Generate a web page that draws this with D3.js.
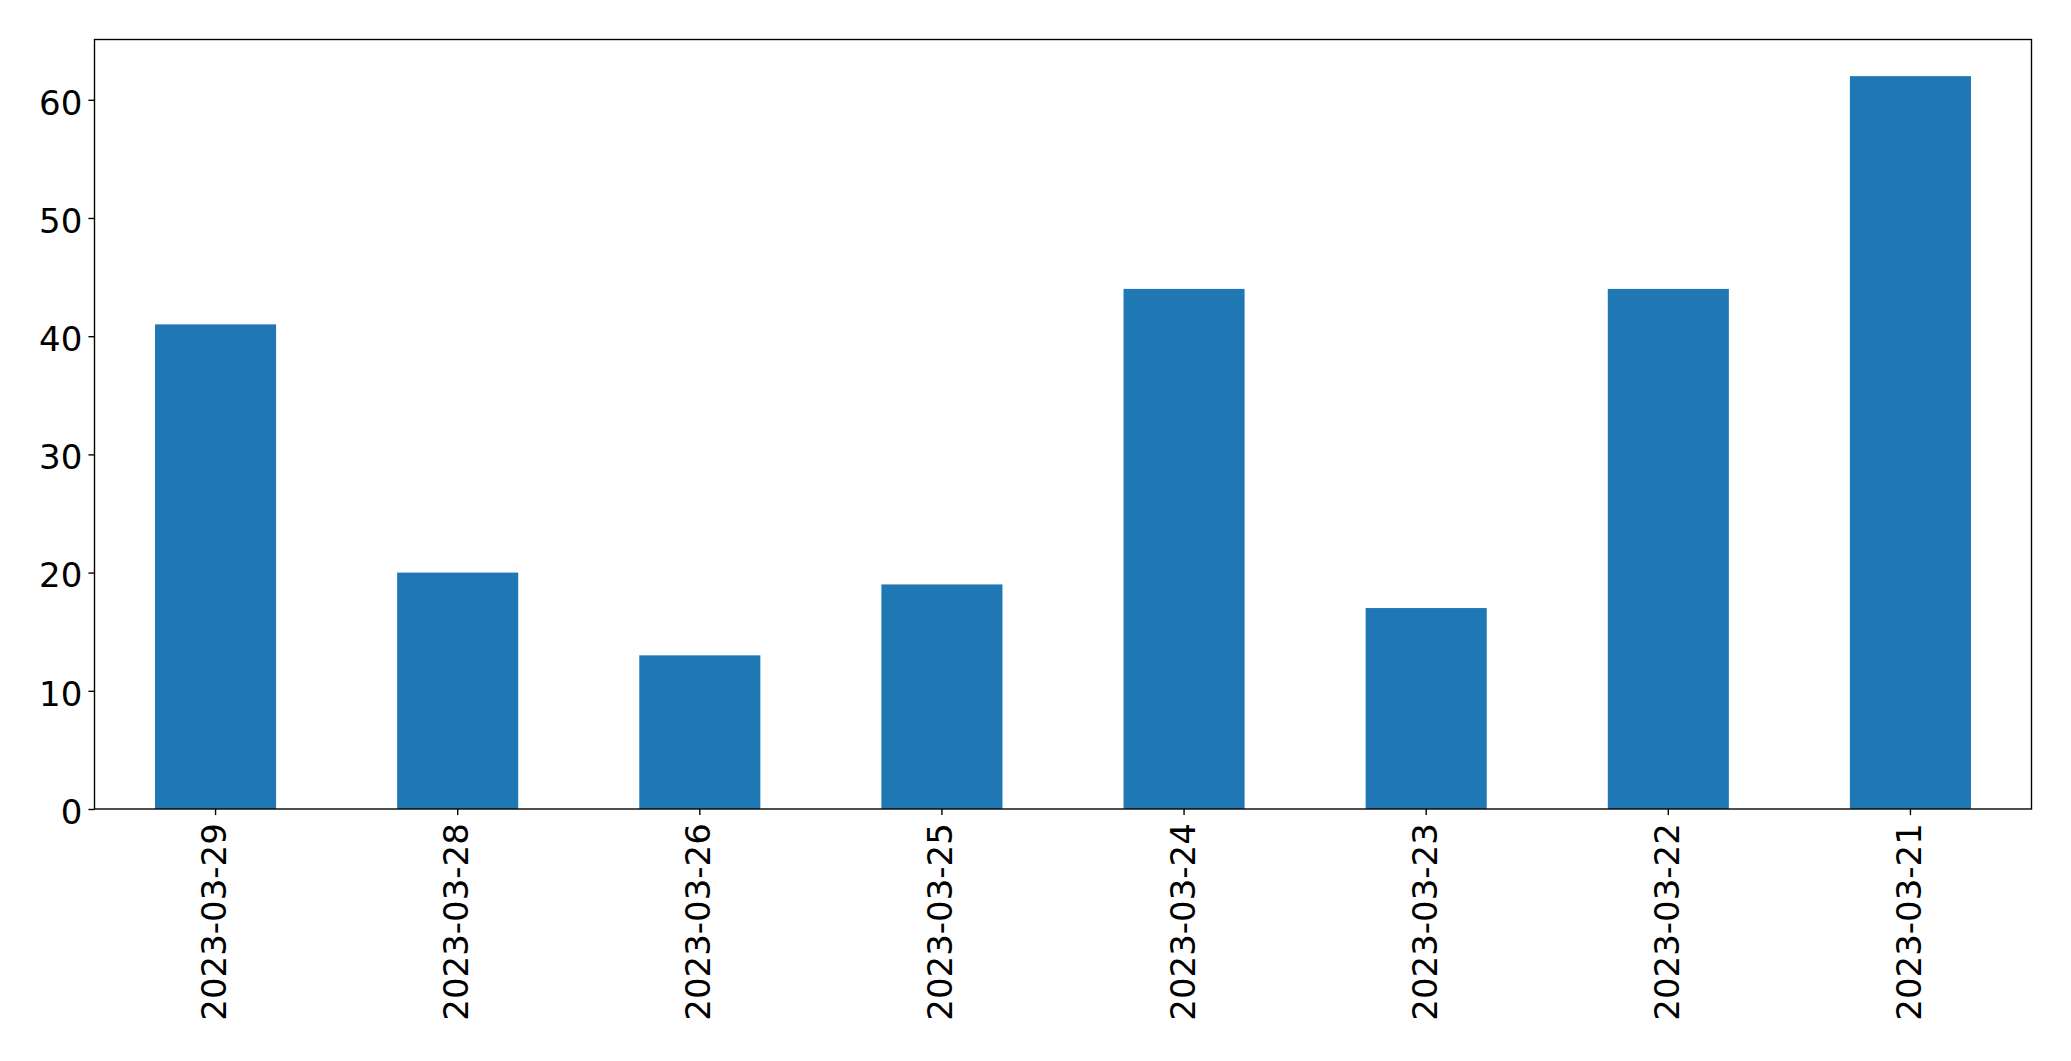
<!DOCTYPE html>
<html>
<head>
<meta charset="utf-8">
<script src="https://cdn.jsdelivr.net/npm/d3@7"></script>
<style>
  html, body { margin: 0; padding: 0; background: #fff; }
  svg { display: block; }
  text { font-family: "DejaVu Sans", sans-serif; fill: #000; }
</style>
</head>
<body>
<script>
const categories = ["2023-03-29", "2023-03-28", "2023-03-26", "2023-03-25", "2023-03-24", "2023-03-23", "2023-03-22", "2023-03-21"];
const values = [41, 20, 13, 19, 44, 17, 44, 62];
const yTicks = [0, 10, 20, 30, 40, 50, 60];

const W = 2071, H = 1061;
const margin = { left: 94.5, right: 2071 - 2031.5, top: 39.5, bottom: 1061 - 809 };
const fontSize = 34;
const tickLen = 6.08, tickPad = 6.08;
const lw = 1.39;

const svg = d3.select("body").append("svg").attr("width", W).attr("height", H);

const x = d3.scaleBand()
  .domain(categories)
  .range([margin.left, W - margin.right])
  .paddingInner(0.5)
  .paddingOuter(0.25);

const yMax = d3.max(values) * 1.05;
const y = d3.scaleLinear().domain([0, yMax]).range([H - margin.bottom, margin.top]);

// bars
svg.append("g").selectAll("rect")
  .data(values)
  .join("rect")
  .attr("x", (d, i) => x(categories[i]))
  .attr("width", x.bandwidth())
  .attr("y", d => y(d))
  .attr("height", d => y(0) - y(d))
  .attr("fill", "#1f77b4");

// y axis
const yAxis = d3.axisLeft(y).tickValues(yTicks).tickFormat(d3.format("d"))
  .tickSize(tickLen).tickPadding(tickPad).tickSizeOuter(0);
const gy = svg.append("g").attr("transform", `translate(${margin.left},0)`).call(yAxis);
gy.select(".domain").remove();
gy.selectAll("line").attr("stroke", "#000").attr("stroke-width", lw);
gy.selectAll("text").attr("font-size", fontSize).attr("font-family", "DejaVu Sans").attr("fill", "#000").attr("dy", "0.42em");

// x axis
const xAxis = d3.axisBottom(x).tickSize(tickLen).tickPadding(tickPad).tickSizeOuter(0);
const gx = svg.append("g").attr("transform", `translate(0,${H - margin.bottom})`).call(xAxis);
gx.select(".domain").remove();
gx.selectAll("line").attr("stroke", "#000").attr("stroke-width", lw);
gx.selectAll("text")
  .attr("font-size", fontSize).attr("font-family", "DejaVu Sans").attr("fill", "#000")
  .attr("transform", "rotate(-90)")
  .attr("text-anchor", "end")
  .attr("x", -(tickLen + tickPad + 2))
  .attr("y", 0)
  .attr("dy", "0.31em");

// frame (spines)
svg.append("rect")
  .attr("x", margin.left).attr("y", margin.top)
  .attr("width", W - margin.right - margin.left)
  .attr("height", H - margin.bottom - margin.top)
  .attr("fill", "none").attr("stroke", "#000").attr("stroke-width", lw);
</script>
</body>
</html>
